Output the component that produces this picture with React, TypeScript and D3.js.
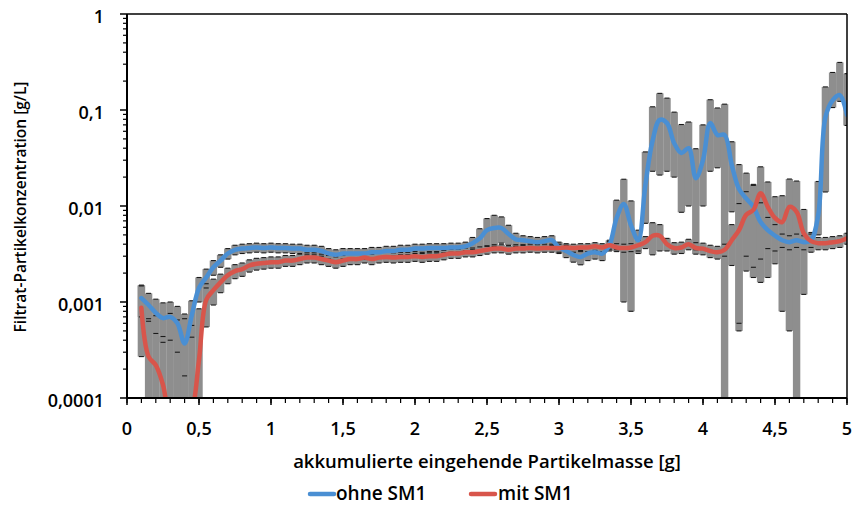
import React from "react";
import * as d3 from "d3";

const xValues = [
  0.1, 0.15, 0.2, 0.25, 0.3, 0.35, 0.4, 0.45, 0.5, 0.55,
  0.6, 0.65, 0.7, 0.75, 0.8, 0.85, 0.9, 0.95, 1.0, 1.05,
  1.1, 1.15, 1.2, 1.25, 1.3, 1.35, 1.4, 1.45, 1.5, 1.55,
  1.6, 1.65, 1.7, 1.75, 1.8, 1.85, 1.9, 1.95, 2.0, 2.05,
  2.1, 2.15, 2.2, 2.25, 2.3, 2.35, 2.4, 2.45, 2.5, 2.55,
  2.6, 2.65, 2.7, 2.75, 2.8, 2.85, 2.9, 2.95, 3.0, 3.05,
  3.1, 3.15, 3.2, 3.25, 3.3, 3.35, 3.4, 3.45, 3.5, 3.55,
  3.6, 3.65, 3.7, 3.75, 3.8, 3.85, 3.9, 3.95, 4.0, 4.05,
  4.1, 4.15, 4.2, 4.25, 4.3, 4.35, 4.4, 4.45, 4.5, 4.55,
  4.6, 4.65, 4.7, 4.75, 4.8, 4.85, 4.9, 4.95, 5.0,
];

// ohne SM1
const blueValues = [
  0.0011, 0.00093, 0.00077, 0.00068, 0.0007, 0.0006, 0.00037, 0.00073, 0.0014, 0.0018,
  0.0023, 0.0027, 0.0032, 0.0035, 0.0036, 0.00365, 0.0037, 0.00365, 0.0037, 0.00365,
  0.00365, 0.0036, 0.0036, 0.0035, 0.0035, 0.0034, 0.0032, 0.0031, 0.0032, 0.0032,
  0.0032, 0.0032, 0.0033, 0.0033, 0.0034, 0.0034, 0.0035, 0.0035, 0.0036, 0.0036,
  0.00365, 0.00365, 0.00365, 0.0037, 0.0037, 0.0038, 0.0041, 0.0046, 0.0056, 0.0059,
  0.0059, 0.0051, 0.0045, 0.0044, 0.0043, 0.0042, 0.0043, 0.0044, 0.0037, 0.0034,
  0.0031, 0.00294, 0.0032, 0.0033, 0.0032, 0.0039, 0.0075, 0.0105, 0.0063, 0.0044,
  0.0166, 0.048, 0.079, 0.073, 0.045, 0.0356, 0.04, 0.0195, 0.03, 0.073,
  0.055, 0.055, 0.0267, 0.015, 0.012, 0.0098, 0.0068, 0.0056, 0.0049, 0.0044,
  0.0042, 0.0044, 0.0042, 0.0044, 0.008, 0.084, 0.126, 0.143, 0.089,
];
const blueErrPlus = [
  0.0004, 0.0003, 0.0003, 0.0003, 0.0003, 0.0003, 0.0003, 0.0003, 0.0004, 0.0004,
  0.0004, 0.0004, 0.0004, 0.0004, 0.0004, 0.0004, 0.0004, 0.0004, 0.0004, 0.0004,
  0.0004, 0.0004, 0.0004, 0.0004, 0.0004, 0.0004, 0.0004, 0.0004, 0.0004, 0.0004,
  0.0004, 0.0004, 0.0004, 0.0004, 0.0004, 0.0004, 0.0004, 0.0004, 0.0004, 0.0004,
  0.0004, 0.0004, 0.0004, 0.0004, 0.0004, 0.0004, 0.0006, 0.0012, 0.0018, 0.0021,
  0.0018, 0.0012, 0.0007, 0.0005, 0.0005, 0.0005, 0.0005, 0.0005, 0.0005, 0.0005,
  0.0005, 0.0005, 0.0005, 0.0005, 0.0005, 0.0005, 0.004, 0.0085, 0.005, 0.0012,
  0.02, 0.06, 0.07, 0.06, 0.05, 0.035, 0.035, 0.02, 0.04, 0.055,
  0.05, 0.06, 0.02, 0.012, 0.01, 0.007, 0.004, 0.002, 0.0015, 0.0007,
  0.0007, 0.0007, 0.0007, 0.0007, 0.01, 0.09, 0.12, 0.17, 0.15,
];
const blueErrMinus = [
  0.0004, 0.0003, 0.0003, 0.0003, 0.0003, 0.0003, 0.0002, 0.0003, 0.0004, 0.0004,
  0.0004, 0.0004, 0.0004, 0.0004, 0.0004, 0.0004, 0.0004, 0.0004, 0.0004, 0.0004,
  0.0004, 0.0004, 0.0004, 0.0004, 0.0004, 0.0004, 0.0004, 0.0004, 0.0004, 0.0004,
  0.0004, 0.0004, 0.0004, 0.0004, 0.0004, 0.0004, 0.0004, 0.0004, 0.0004, 0.0004,
  0.0004, 0.0004, 0.0004, 0.0004, 0.0004, 0.0004, 0.0006, 0.0012, 0.0018, 0.0021,
  0.0018, 0.0012, 0.0007, 0.0005, 0.0005, 0.0005, 0.0005, 0.0005, 0.0005, 0.0005,
  0.0005, 0.0005, 0.0005, 0.0005, 0.0005, 0.0005, 0.004, 0.0095, 0.0055, 0.0012,
  0.01, 0.025, 0.058, 0.05, 0.025, 0.027, 0.03, 0.016, 0.02, 0.05,
  0.03, 0.07, 0.018, 0.0145, 0.009, 0.0075, 0.004, 0.002, 0.0015, 0.0007,
  0.0007, 0.0007, 0.0007, 0.0007, 0.003, 0.07, 0.02, 0.02, 0.02,
];

// mit SM1
const redValues = [
  0.00087, 0.00027, 0.00022, 0.000137, 0.00006, 0.00005, 0.00005, 0.00007, 0.00025, 0.00105,
  0.00133, 0.0016, 0.0019, 0.0021, 0.0022, 0.0024, 0.0025, 0.00255, 0.0026, 0.0026,
  0.0027, 0.0027, 0.0028, 0.0029, 0.0029, 0.0028, 0.0027, 0.0026, 0.0027, 0.0028,
  0.0028, 0.0029, 0.0028, 0.0029, 0.00294, 0.0029, 0.00294, 0.00294, 0.003, 0.00294,
  0.003, 0.003, 0.0031, 0.0032, 0.0032, 0.0033, 0.0033, 0.0034, 0.0035, 0.0036,
  0.0036, 0.0035, 0.0036, 0.0036, 0.00365, 0.0036, 0.00365, 0.00365, 0.00365, 0.0037,
  0.00365, 0.0037, 0.0037, 0.0038, 0.0037, 0.0039, 0.0037, 0.00365, 0.0037, 0.0039,
  0.0042, 0.0049, 0.0049, 0.004, 0.00365, 0.0037, 0.004, 0.00365, 0.0036, 0.0034,
  0.0033, 0.0035, 0.0044, 0.0056, 0.0081, 0.0091, 0.0136, 0.0098, 0.0075, 0.0068,
  0.0098, 0.0087, 0.0052, 0.0043, 0.0041, 0.0041, 0.0042, 0.0043, 0.0046,
];
const redErr = [
  0.0006, 0.0004, 0.0005, 0.0003, 0.0007, 0.0006, 0.0007, 0.0005, 0.0006, 0.0005,
  0.0004, 0.00035, 0.00035, 0.00035, 0.00035, 0.00035, 0.00035, 0.00035, 0.00035, 0.00035,
  0.00035, 0.00035, 0.00035, 0.00035, 0.00035, 0.00035, 0.00035, 0.00035, 0.00035, 0.00035,
  0.00035, 0.00035, 0.00035, 0.00035, 0.00035, 0.00035, 0.00035, 0.00035, 0.00035, 0.00035,
  0.00035, 0.00035, 0.00035, 0.00035, 0.00035, 0.00035, 0.00035, 0.00035, 0.00035, 0.00035,
  0.00035, 0.00035, 0.00035, 0.00035, 0.00035, 0.00035, 0.00035, 0.00035, 0.00035, 0.00035,
  0.00035, 0.00035, 0.00035, 0.00035, 0.00035, 0.00035, 0.00035, 0.00035, 0.00035, 0.0005,
  0.0006, 0.0018, 0.0015, 0.0006, 0.0005, 0.0005, 0.0005, 0.0005, 0.0005, 0.0005,
  0.0005, 0.0005, 0.002, 0.005, 0.006, 0.0073, 0.012, 0.008, 0.005, 0.006,
  0.0093, 0.0095, 0.004, 0.001, 0.0006, 0.0006, 0.0006, 0.0006, 0.0006,
];

const xTickValues = [0, 0.5, 1, 1.5, 2, 2.5, 3, 3.5, 4, 4.5, 5];
const xTickLabels = ["0", "0,5", "1", "1,5", "2", "2,5", "3", "3,5", "4", "4,5", "5"];
const yTickValues = [0.0001, 0.001, 0.01, 0.1, 1];
const yTickLabels = ["0,0001", "0,001", "0,01", "0,1", "1"];

const seriesNames = ["ohne SM1", "mit SM1"];
const seriesColors = ["#4a8fd3", "#d8554b"];

const W = 852;
const H = 517;
const M = { left: 127, right: 847, top: 14, bottom: 398 };
const FONT = "'Open Sans', sans-serif";

export default function App() {
  const x = d3.scaleLinear().domain([0, 5]).range([M.left, M.right]);
  const y = d3.scaleLog().domain([0.0001, 1]).range([M.bottom, M.top]);

  const line = d3
    .line<number>()
    .x((_, i) => x(xValues[i]))
    .y((d) => y(d))
    .curve(d3.curveCatmullRom.alpha(0.5));

  const minorX = x.ticks(50);
  const minorY: number[] = [];
  [0.0001, 0.001, 0.01, 0.1].forEach((dec) => {
    for (let k = 2; k <= 9; k++) minorY.push(dec * k);
  });

  const step = x(xValues[1]) - x(xValues[0]);
  const barW = step + 0.2;
  const capW = 5;

  const errBars = (vals: number[], plus: number[], minus: number[], key: string) =>
    vals.map((v, i) => {
      const hi = v + plus[i];
      const lo = v - minus[i];
      const cx = x(xValues[i]);
      const yHi = Math.max(M.top, y(hi));
      const yLo = lo > 0 ? Math.min(M.bottom, y(lo)) : M.bottom;
      return yLo > yHi ? (
        <rect key={key + i} x={cx - barW / 2} y={yHi} width={barW} height={yLo - yHi} fill="#8e8e8e" />
      ) : null;
    });

  const errCaps = (vals: number[], plus: number[], minus: number[], key: string) =>
    vals.map((v, i) => {
      const hi = v + plus[i];
      const lo = v - minus[i];
      const cx = x(xValues[i]);
      return (
        <g key={key + i}>
          {hi <= 1 && y(hi) <= M.bottom && (
            <line x1={cx - capW / 2} x2={cx + capW / 2} y1={y(hi)} y2={y(hi)} stroke="#1a1a1a" strokeWidth={1.1} />
          )}
          {lo > 0 && y(lo) <= M.bottom && (
            <line x1={cx - capW / 2} x2={cx + capW / 2} y1={y(lo)} y2={y(lo)} stroke="#1a1a1a" strokeWidth={1.1} />
          )}
        </g>
      );
    });

  return (
    <svg
      width={W}
      height={H}
      style={{ position: "absolute", left: 0, top: 0, background: "#fff" }}
      fontFamily={FONT}
    >
      <defs>
        <clipPath id="plotClip">
          <rect x={M.left} y={M.top} width={M.right - M.left} height={M.bottom - M.top} />
        </clipPath>
      </defs>
      <rect x={0} y={0} width={W} height={H} fill="#fff" />

      <g clipPath="url(#plotClip)">
        {errBars(blueValues, blueErrPlus, blueErrMinus, "b")}
        {errBars(redValues, redErr, redErr, "r")}
        {errCaps(blueValues, blueErrPlus, blueErrMinus, "bc")}
        {errCaps(redValues, redErr, redErr, "rc")}
        <path d={line(blueValues) || ""} fill="none" stroke={seriesColors[0]} strokeWidth={4.5} strokeLinejoin="round" strokeLinecap="round" />
        <path d={line(redValues) || ""} fill="none" stroke={seriesColors[1]} strokeWidth={4.5} strokeLinejoin="round" strokeLinecap="round" />
      </g>

      {/* frame */}
      <line x1={M.left} x2={M.right} y1={M.top} y2={M.top} stroke="#000" strokeWidth={1.5} />
      <line x1={M.right} x2={M.right} y1={M.top} y2={M.bottom} stroke="#000" strokeWidth={1.5} />
      <line x1={M.left} x2={M.left} y1={M.top} y2={M.bottom} stroke="#000" strokeWidth={2} />
      <line x1={M.left} x2={M.right} y1={M.bottom} y2={M.bottom} stroke="#000" strokeWidth={2} />

      {/* y ticks */}
      {minorY.map((v, i) => (
        <line key={"my" + i} x1={M.left - 4} x2={M.left} y1={y(v)} y2={y(v)} stroke="#000" strokeWidth={1.2} />
      ))}
      {yTickValues.map((v, i) => (
        <g key={"yt" + i}>
          <line x1={M.left - 7} x2={M.left} y1={y(v)} y2={y(v)} stroke="#000" strokeWidth={1.5} />
          <text x={104} y={y(v) + 4} textAnchor="end" dominantBaseline="middle" fontSize={18} fontWeight={600} fill="#000">
            {yTickLabels[i]}
          </text>
        </g>
      ))}

      {/* x ticks */}
      {minorX.map((v, i) => (
        <line key={"mx" + i} x1={x(v)} x2={x(v)} y1={M.bottom} y2={M.bottom + 5} stroke="#000" strokeWidth={1.2} />
      ))}
      {xTickValues.map((v, i) => (
        <g key={"xt" + i}>
          <line x1={x(v)} x2={x(v)} y1={M.bottom} y2={M.bottom + 7} stroke="#000" strokeWidth={1.5} />
          <text x={x(v)} y={430} textAnchor="middle" dominantBaseline="middle" fontSize={18} fontWeight={600} fill="#000">
            {xTickLabels[i]}
          </text>
        </g>
      ))}

      {/* axis titles */}
      <text x={(M.left + M.right) / 2} y={463} textAnchor="middle" dominantBaseline="middle" fontSize={18.5} fontWeight={600} fill="#000">
        akkumulierte eingehende Partikelmasse [g]
      </text>
      <text
        transform={`translate(22, ${(M.top + M.bottom) / 2 + 1}) rotate(-90)`}
        textAnchor="middle"
        dominantBaseline="middle"
        fontSize={15.5}
        fontWeight={600}
        fill="#000"
      >
        Filtrat-Partikelkonzentration [g/L]
      </text>

      {/* legend */}
      <g>
        <line x1={310} x2={334} y1={494} y2={494} stroke={seriesColors[0]} strokeWidth={4.5} strokeLinecap="round" />
        <text x={336} y={495} dominantBaseline="middle" fontSize={19} fontWeight={600} fill="#000">
          {seriesNames[0]}
        </text>
        <line x1={471} x2={495} y1={494} y2={494} stroke={seriesColors[1]} strokeWidth={4.5} strokeLinecap="round" />
        <text x={498} y={495} dominantBaseline="middle" fontSize={19} fontWeight={600} fill="#000">
          {seriesNames[1]}
        </text>
      </g>
    </svg>
  );
}
